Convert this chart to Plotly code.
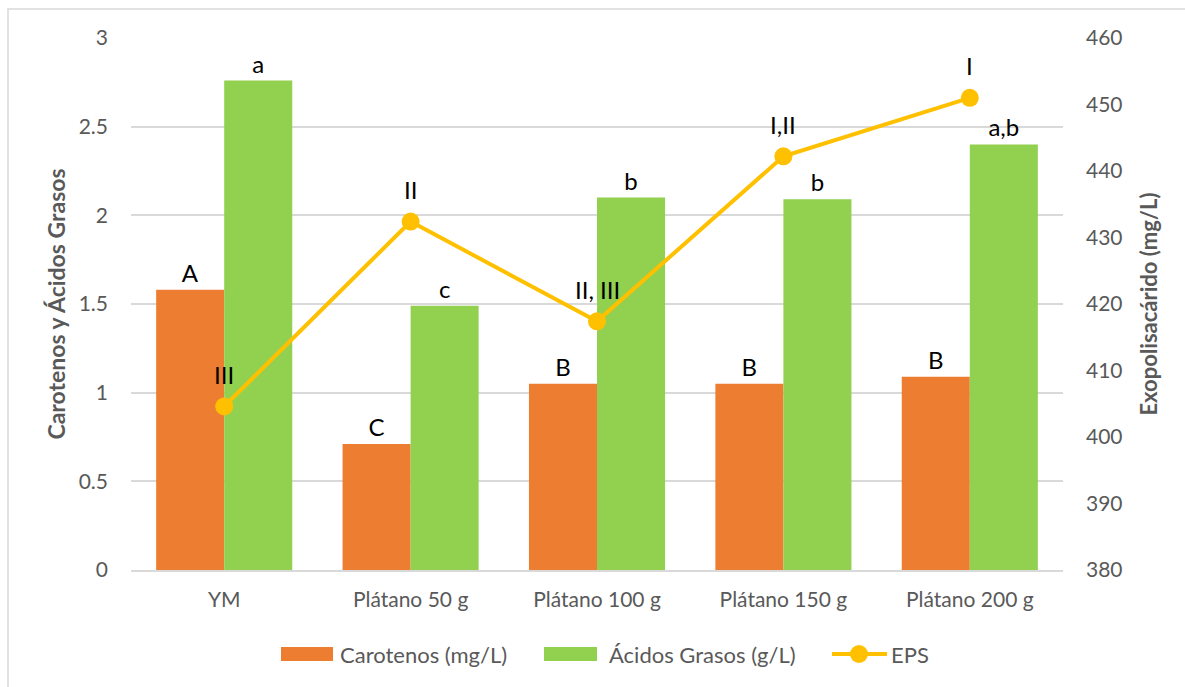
import plotly.graph_objects as go

# Tratamientos y resultados
categorias = ["YM", "Plátano 50 g", "Plátano 100 g", "Plátano 150 g", "Plátano 200 g"]
carotenos = [1.58, 0.71, 1.05, 1.05, 1.09]          # mg/L
acidos_grasos = [2.76, 1.49, 2.10, 2.09, 2.40]      # g/L
eps = [404.6, 432.4, 417.4, 442.2, 451.0]           # mg/L

# Letras de significancia
letras_carotenos = ["A", "C", "B", "B", "B"]
letras_acidos = ["a", "c", "b", "b", "a,b"]
letras_eps = ["III", "II", "II, III", "I,II", "I"]

FONT = "Lato"
GRIS = "#595959"
REJILLA = "#D9D9D9"
NARANJA = "#ED7D31"
VERDE = "#92D050"
AMARILLO = "#FFC000"

# Geometría del área de trazado (px)
L, R, T, B = 131, 1063, 38, 570


def px_x(px):
    return (px - L) / (R - L)


def px_y(py):
    return (B - py) / (B - T)


fig = go.Figure()

fig.add_trace(go.Bar(
    x=categorias, y=carotenos, name="Carotenos (mg/L)",
    marker=dict(color=NARANJA, line=dict(width=0)),
    text=letras_carotenos, textposition="outside", cliponaxis=False,
    textfont=dict(family=FONT, size=24, color="#000000"),
))
fig.add_trace(go.Bar(
    x=categorias, y=acidos_grasos, name="Ácidos Grasos (g/L)",
    marker=dict(color=VERDE, line=dict(width=0)),
    text=letras_acidos, textposition="outside", cliponaxis=False,
    textfont=dict(family=FONT, size=24, color="#000000"),
))
fig.add_trace(go.Scatter(
    x=categorias, y=eps, name="EPS", yaxis="y2", mode="lines+markers",
    line=dict(color=AMARILLO, width=4),
    marker=dict(color=AMARILLO, size=18),
    cliponaxis=False,
))

# Letras sobre los puntos de EPS
for cat, val, txt in zip(categorias, eps, letras_eps):
    fig.add_annotation(
        x=cat, y=val, xref="x", yref="y2", text=txt, showarrow=False,
        yanchor="middle", yshift=32,
        font=dict(family=FONT, size=24, color="#000000"),
    )

# Leyenda inferior
ley_y = px_y(654)
fig.add_shape(type="rect", xref="paper", yref="paper",
              x0=px_x(281), x1=px_x(333), y0=px_y(661), y1=px_y(647),
              fillcolor=NARANJA, line=dict(width=0))
fig.add_shape(type="rect", xref="paper", yref="paper",
              x0=px_x(544), x1=px_x(597), y0=px_y(661), y1=px_y(647),
              fillcolor=VERDE, line=dict(width=0))
fig.add_shape(type="line", xref="paper", yref="paper",
              x0=px_x(832), x1=px_x(887), y0=ley_y, y1=ley_y,
              line=dict(color=AMARILLO, width=4))
fig.add_shape(type="circle", xref="paper", yref="paper",
              x0=px_x(850), x1=px_x(868), y0=px_y(663), y1=px_y(645),
              fillcolor=AMARILLO, line=dict(width=0))
for xpx, txt in [(338, "Carotenos (mg/L)"), (607, "Ácidos Grasos (g/L)"), (889, "EPS")]:
    fig.add_annotation(xref="paper", yref="paper", x=px_x(xpx), y=ley_y,
                       text=txt, showarrow=False, xanchor="left", yanchor="middle",
                       font=dict(family=FONT, size=22, color=GRIS))

# Borde del área del gráfico
fig.add_shape(
    type="rect", xref="paper", yref="paper",
    x0=px_x(8), x1=1.3, y0=-0.4, y1=px_y(9),
    line=dict(color=REJILLA, width=1.5), fillcolor="rgba(0,0,0,0)",
    layer="below",
)

fig.update_layout(
    width=1185, height=687,
    margin=dict(l=L, r=1185 - R, t=T, b=687 - B),
    paper_bgcolor="white", plot_bgcolor="white",
    barmode="group", bargap=0.27, bargroupgap=0,
    font=dict(family=FONT, color=GRIS, size=21),
    showlegend=False,
    xaxis=dict(
        showgrid=False, showline=True, linecolor=REJILLA, linewidth=1.5,
        ticks="", tickfont=dict(family=FONT, size=21, color=GRIS),
        ticklabelstandoff=10,
    ),
    yaxis=dict(
        range=[0, 3], dtick=0.5, showgrid=True,
        gridcolor=REJILLA, gridwidth=1.5, zeroline=False, showline=False,
        ticks="", tickfont=dict(family=FONT, size=21, color=GRIS),
        ticklabelstandoff=22,
        title=dict(text="Carotenos y Ácidos Grasos", standoff=6,
                   font=dict(family=FONT, size=23, color=GRIS, weight="bold")),
    ),
    yaxis2=dict(
        range=[380, 460], dtick=10, overlaying="y", side="right",
        showgrid=False, zeroline=False, showline=False, ticks="",
        tickfont=dict(family=FONT, size=21, color=GRIS),
        ticklabelstandoff=22,
        title=dict(text="Exopolisacárido (mg/L)", standoff=20,
                   font=dict(family=FONT, size=22, color=GRIS, weight="bold")),
    ),
)

fig.write_html("out.html")
